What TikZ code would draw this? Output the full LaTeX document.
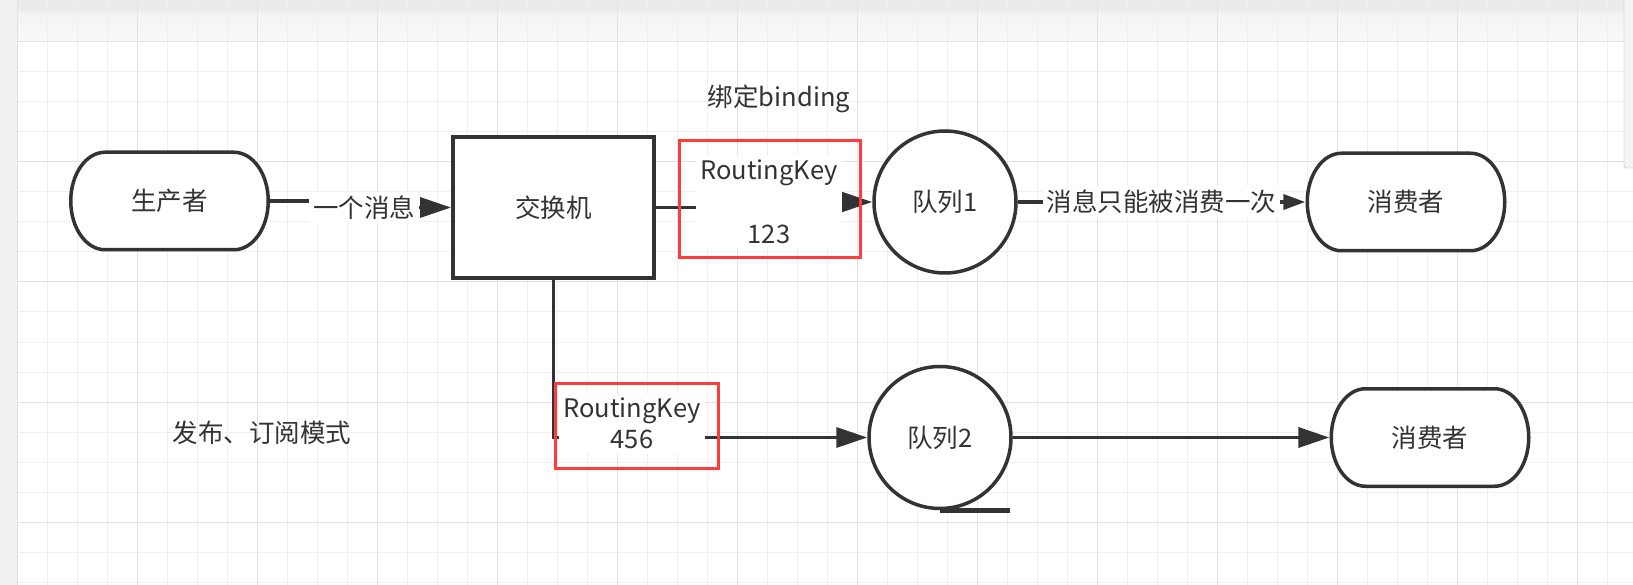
\documentclass[tikz,border=0pt]{standalone}
\usepackage{fontspec}
\newfontfamily\cjk{Noto Sans CJK SC}
\usetikzlibrary{arrows.meta, positioning}
\definecolor{ink}{HTML}{333333}
\definecolor{keyred}{HTML}{FF3B3B}
\definecolor{gridminor}{HTML}{F0F0F0}
\definecolor{gridmajor}{HTML}{E2E2E2}

\begin{document}
\begin{tikzpicture}[x=1pt, y=-1pt,
		font=\cjk\fontsize{25.5}{31}\selectfont, text=ink,
		wire/.style={draw=ink, line width=3.5pt},
		flow/.style={wire, -{Triangle[length=31pt,width=20pt]}},
		lbl/.style={fill=white, inner sep=4pt, align=center},
		xchg/.style={wire, line width=4pt, fill=white, minimum width=201pt, minimum height=141pt},
		queue/.style={wire, circle, fill=white, minimum size=142pt, inner sep=0pt},
		keybox/.style={draw=keyred, line width=3pt},
		term/.style={minimum width=201pt, minimum height=101pt, inner sep=0pt,
			path picture={\filldraw[wire, fill=white]
				([xshift=36pt,yshift=-1.75pt]path picture bounding box.north west)
				-- ([xshift=-36pt,yshift=-1.75pt]path picture bounding box.north east)
				arc[start angle=90, end angle=-90, x radius=34.25pt, y radius=48.75pt]
				-- ([xshift=36pt,yshift=1.75pt]path picture bounding box.south west)
				arc[start angle=270, end angle=90, x radius=34.25pt, y radius=48.75pt] -- cycle;}}]
	\useasboundingbox (0,0) rectangle (1633,585);
	% Canvas and grid:
	\fill[white] (0,0) rectangle (1633,585);
	\fill[black!8] (0,0) rectangle (1633,12);
	\shade[top color=black!5, bottom color=black!2] (0,12) rectangle (1633,42);
	\foreach \x in {17,47,...,1633} \draw[gridminor, line width=1pt] (\x,0) -- (\x,585);
	\foreach \y in {12,42,...,585} \draw[gridminor, line width=1pt] (17,\y) -- (1633,\y);
	\foreach \x in {17,137,...,1633} \draw[gridmajor, line width=1pt] (\x,0) -- (\x,585);
	\foreach \y in {42,162,...,585} \draw[gridmajor, line width=1pt] (17,\y) -- (1633,\y);
	\fill[black!6] (0,0) rectangle (17,585);
	\filldraw[fill=black!4, draw=black!30, rounded corners=3pt] (1624,-5) rectangle (1640,168);

	% Shapes and texts:
	\node[term] (prod) at (169.5,201) {生产者};
	\node[xchg] (exch) at (553.5,207.5) {交换机};
	\node[queue] (q1) at (945,202) {队列1};
	\node[queue] (q2) at (940,437.5) {队列2};
	\node[term] (cons1) at (1406,202) {消费者};
	\node[term] (cons2) at (1430,437.5) {消费者};
	\node (bind) at (779,99) {绑定binding};
	\node (mode) at (262,433) {发布、订阅模式};

	% Connectors:
	\draw[flow] (prod.east) -- ++(94,0) |- (exch.west) node[lbl, pos=0.5] {一个消息};
	\draw[flow] (exch.east) -- ++(113,0) |- (q1.west) node[lbl, pos=0.5] {RoutingKey\\[33pt]123};
	\draw[wire, -{Triangle[length=22pt,width=15pt]}] (q1.east) -- (cons1.west) node[lbl, midway] {消息只能被消费一次};
	\draw[flow] (exch.south) |- (q2.west) node[lbl, pos=0.625, yshift=14pt] {RoutingKey\\456};
	\draw[flow] (q2.east) -- (cons2.west);
	\draw[wire, line width=4.5pt] (q2.south) -- ++(70,0);

	% Red frames round the keys:
	\node[keybox, minimum width=181pt, minimum height=117pt] (rk1) at (769.5,199.5) {};
	\node[keybox, minimum width=163pt, minimum height=85pt] (rk2) at (636.5,425.5) {};
\end{tikzpicture}
\end{document}
